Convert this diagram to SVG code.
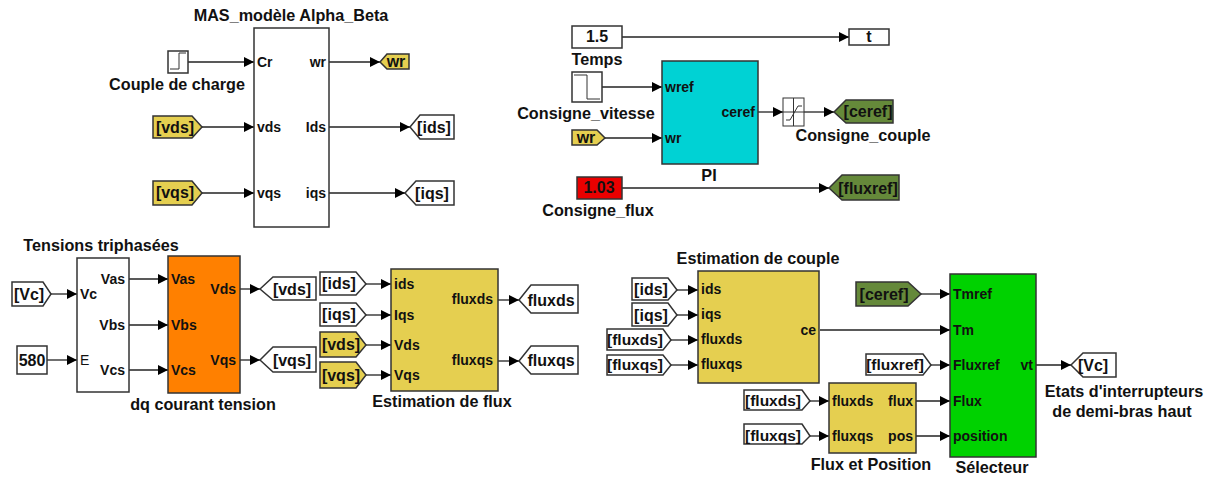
<svg xmlns="http://www.w3.org/2000/svg" width="1211" height="477" viewBox="0 0 1211 477">
<style>
text{font-family:"Liberation Sans",Arial,sans-serif;font-weight:bold;fill:#111}
.l{font-size:16.2px;text-anchor:middle}
.f{font-size:16px;text-anchor:middle}
.s{font-size:15.5px;text-anchor:middle}
.p{font-size:14px}
.e{text-anchor:end}
.b{stroke:#333;stroke-width:1.5;fill:#fff}
.y{fill:#e5cf50}
.g{fill:#65893a}
.c{stroke:#222;stroke-width:1.3;fill:none;marker-end:url(#a)}
.t{stroke:#333;stroke-width:1;fill:none}
</style>
<defs><marker id="a" markerUnits="userSpaceOnUse" markerWidth="10" markerHeight="10" refX="10" refY="5" orient="auto"><path d="M0 0L10 5L0 10Z" fill="#000"/></marker></defs>
<g id="connectors">
<path class="c" d="M188 62H254"/><path class="c" d="M329 62H380"/>
<path class="c" d="M202 127H254"/><path class="c" d="M329 127H410"/>
<path class="c" d="M202 193H254"/><path class="c" d="M329 193H405"/>
<path class="c" d="M622 37H849"/><path class="c" d="M602 87H662"/><path class="c" d="M605 138H662"/>
<path class="c" d="M758 112H783"/><path class="c" d="M804 112H834"/><path class="c" d="M622 188H829"/>
<path class="c" d="M51 294H77"/><path class="c" d="M47 360H77"/>
<path class="c" d="M129 279H168"/><path class="c" d="M129 325H168"/><path class="c" d="M129 370H168"/>
<path class="c" d="M240 289H260"/><path class="c" d="M240 360H260"/>
<path class="c" d="M366 284H391"/><path class="c" d="M366 315H391"/><path class="c" d="M366 345H391"/><path class="c" d="M366 375H391"/>
<path class="c" d="M498 300H519"/><path class="c" d="M498 361H519"/>
<path class="c" d="M677 290H698"/><path class="c" d="M677 315H698"/><path class="c" d="M671 340H698"/><path class="c" d="M671 365H698"/>
<path class="c" d="M820 330H950"/><path class="c" d="M921 294H950"/><path class="c" d="M931 365H950"/>
<path class="c" d="M916 401H950"/><path class="c" d="M916 436H950"/><path class="c" d="M810 401H829"/><path class="c" d="M810 436H829"/>
<path class="c" d="M1036 365H1071"/>
</g>
<g id="mas"><rect class="b" x="254" y="28" width="75" height="199"/><text class="l" x="291" y="21">MAS_modèle Alpha_Beta</text>
<text class="p" x="257" y="67">Cr</text><text class="p" x="257" y="132">vds</text><text class="p" x="257" y="198">vqs</text>
<text class="p e" x="326" y="67">wr</text><text class="p e" x="326" y="132">Ids</text><text class="p e" x="326" y="198">iqs</text></g>
<g id="couple-charge"><rect class="b" x="168" y="51" width="20" height="22"/><path class="t" d="M170 69H179V53H186"/><text class="l" x="177" y="90">Couple de charge</text></g>
<g id="from-vds"><polygon class="b y" points="153,116 192,116 202,127 192,138 153,138"/><text class="f" x="175" y="133">[vds]</text></g>
<g id="from-vqs"><polygon class="b y" points="153,181 192,181 202,193 192,205 153,205"/><text class="f" x="175" y="198">[vqs]</text></g>
<g id="goto-wr"><polygon class="b y" points="380,62 387,54 409,54 409,69 387,69"/><text class="f" x="396" y="67">wr</text></g>
<g id="goto-ids"><polygon class="b" points="410,127 420,115 454,115 454,139 420,139"/><text class="f" x="434" y="133">[ids]</text></g>
<g id="goto-iqs"><polygon class="b" points="405,193 416,181 454,181 454,205 416,205"/><text class="f" x="432" y="199">[iqs]</text></g>

<g id="temps"><rect class="b" x="572" y="26" width="50" height="22"/><text class="f" x="597" y="42">1.5</text><text class="l" x="597" y="65">Temps</text></g>
<g id="goto-t"><rect class="b" x="849" y="29" width="40" height="16"/><text class="f" x="869" y="42">t</text></g>
<g id="consigne-vitesse"><rect class="b" x="572" y="72" width="30" height="30"/><path class="t" d="M574 75H587V99H600"/><text class="l" x="586" y="119">Consigne_vitesse</text></g>
<g id="from-wr"><polygon class="b y" points="572,130 597,130 605,138 597,145 572,145"/><text class="f" x="586" y="143">wr</text></g>
<g id="pi"><rect class="b" x="662" y="61" width="96" height="103" style="fill:#00d2d4"/><text class="p" x="665" y="92">wref</text><text class="p" x="665" y="143">wr</text><text class="p e" x="755" y="117">ceref</text><text class="l" x="709" y="181">PI</text></g>
<g id="saturation"><rect class="b" x="783" y="98" width="21" height="28" style="stroke-width:1"/><path class="t" d="M793.500 98V126M783 112H804M786 120H790L798 106H802"/><text class="l" x="863" y="141">Consigne_couple</text></g>
<g id="goto-ceref"><polygon class="b g" points="834,112 846,100 893,100 893,123 846,123"/><text class="f" x="868" y="117">[ceref]</text></g>
<g id="consigne-flux"><rect class="b" x="577" y="177" width="45" height="22" style="fill:#ea0000"/><text class="f" x="599" y="193">1.03</text><text class="l" x="598" y="216">Consigne_flux</text></g>
<g id="goto-fluxref"><polygon class="b g" points="829,188 842,175 899,175 899,200 842,200"/><text class="f" x="868" y="194">[fluxref]</text></g>

<g id="from-vc"><polygon class="b" points="12,282 43,282 51,294 43,306 12,306"/><text class="f" x="29" y="300">[Vc]</text></g>
<g id="const-580"><rect class="b" x="17" y="346" width="30" height="28"/><text class="f" x="32" y="366">580</text></g>
<g id="tensions"><rect class="b" x="77" y="258" width="52" height="134"/><text class="l" x="101" y="251">Tensions triphasées</text>
<text class="p" x="80" y="299">Vc</text><text class="p" x="80" y="365" style="font-weight:normal">E</text><text class="p e" x="125" y="284">Vas</text><text class="p e" x="125" y="330">Vbs</text><text class="p e" x="125" y="375">Vcs</text></g>
<g id="dq"><rect class="b" x="168" y="256" width="72" height="137" style="fill:#ff8000"/><text class="p" x="171" y="284">Vas</text><text class="p" x="171" y="330">Vbs</text><text class="p" x="171" y="375">Vcs</text><text class="p e" x="236" y="294">Vds</text><text class="p e" x="236" y="365">Vqs</text><text class="l" x="203" y="410">dq courant tension</text></g>
<g id="goto-vds"><polygon class="b" points="260,289 273,277 316,277 316,300 273,300"/><text class="f" x="292" y="295">[vds]</text></g>
<g id="goto-vqs"><polygon class="b" points="260,360 273,347 316,347 316,372 273,372"/><text class="f" x="292" y="366">[vqs]</text></g>
<g id="from-ids1"><polygon class="b" points="320,272 356,272 366,284 356,295 320,295"/><text class="f" x="339" y="289">[ids]</text></g>
<g id="from-iqs1"><polygon class="b" points="320,303 356,303 366,315 356,326 320,326"/><text class="f" x="339" y="320">[iqs]</text></g>
<g id="from-vds1"><polygon class="b y" points="320,332 356,332 366,345 356,357 320,357"/><text class="f" x="341" y="350">[vds]</text></g>
<g id="from-vqs1"><polygon class="b y" points="320,362 356,362 366,375 356,388 320,388"/><text class="f" x="341" y="381">[vqs]</text></g>
<g id="estimation-flux"><rect class="b y" x="391" y="269" width="107" height="122"/><text class="p" x="394" y="289">ids</text><text class="p" x="394" y="320">Iqs</text><text class="p" x="394" y="350">Vds</text><text class="p" x="394" y="380">Vqs</text><text class="p e" x="493" y="304">fluxds</text><text class="p e" x="493" y="365">fluxqs</text><text class="l" x="442" y="407">Estimation de flux</text></g>
<g id="goto-fluxds"><polygon class="b" points="519,300 531,285 578,285 578,313 531,313"/><text class="f" x="551" y="306">fluxds</text></g>
<g id="goto-fluxqs"><polygon class="b" points="519,361 531,346 578,346 578,374 531,374"/><text class="f" x="551" y="366">fluxqs</text></g>

<g id="estimation-couple"><rect class="b y" x="698" y="271" width="121" height="112"/><text class="l" x="758" y="264">Estimation de couple</text><text class="p" x="701" y="294">ids</text><text class="p" x="701" y="319">iqs</text><text class="p" x="701" y="344">fluxds</text><text class="p" x="701" y="369">fluxqs</text><text class="p e" x="816" y="335">ce</text></g>
<g id="from-ids2"><polygon class="b" points="632,278 668,278 677,290 668,300 632,300"/><text class="f" x="651" y="295">[ids]</text></g>
<g id="from-iqs2"><polygon class="b" points="632,303 668,303 677,315 668,326 632,326"/><text class="f" x="651" y="321">[iqs]</text></g>
<g id="from-fluxds2"><polygon class="b" points="607,329 663,329 671,340 663,350 607,350"/><text class="s" x="635" y="345">[fluxds]</text></g>
<g id="from-fluxqs2"><polygon class="b" points="607,355 663,355 671,365 663,375 607,375"/><text class="s" x="635" y="370">[fluxqs]</text></g>
<g id="from-ceref2"><polygon class="b g" points="856,282 908,282 921,294 908,306 856,306"/><text class="f" x="884" y="300">[ceref]</text></g>
<g id="from-fluxref2"><polygon class="b" points="866,354 923,354 931,365 923,375 866,375"/><text class="s" x="895" y="370">[fluxref]</text></g>
<g id="from-fluxds3"><polygon class="b" points="744,390 802,390 810,401 802,410 744,410"/><text class="s" x="773" y="406">[fluxds]</text></g>
<g id="from-fluxqs3"><polygon class="b" points="744,424 802,424 810,436 802,444 744,444"/><text class="s" x="773" y="441">[fluxqs]</text></g>
<g id="flux-position"><rect class="b y" x="829" y="383" width="87" height="70"/><text class="p" x="832" y="406">fluxds</text><text class="p" x="832" y="441">fluxqs</text><text class="p e" x="913" y="406">flux</text><text class="p e" x="913" y="441">pos</text><text class="l" x="871" y="470">Flux et Position</text></g>
<g id="selecteur"><rect class="b" x="950" y="274" width="86" height="183" style="fill:#00d200"/><text class="p" x="953" y="299">Tmref</text><text class="p" x="953" y="335">Tm</text><text class="p" x="953" y="370">Fluxref</text><text class="p" x="953" y="406">Flux</text><text class="p" x="953" y="441">position</text><text class="p e" x="1033" y="370">vt</text><text class="l" x="992" y="473">Sélecteur</text></g>
<g id="goto-vc"><polygon class="b" points="1071,365 1083,353 1116,353 1116,377 1083,377"/><text class="f" x="1093" y="371">[Vc]</text><text class="l" x="1124" y="397">Etats d'interrupteurs</text><text class="l" x="1122" y="417">de demi-bras haut</text></g>
</svg>
